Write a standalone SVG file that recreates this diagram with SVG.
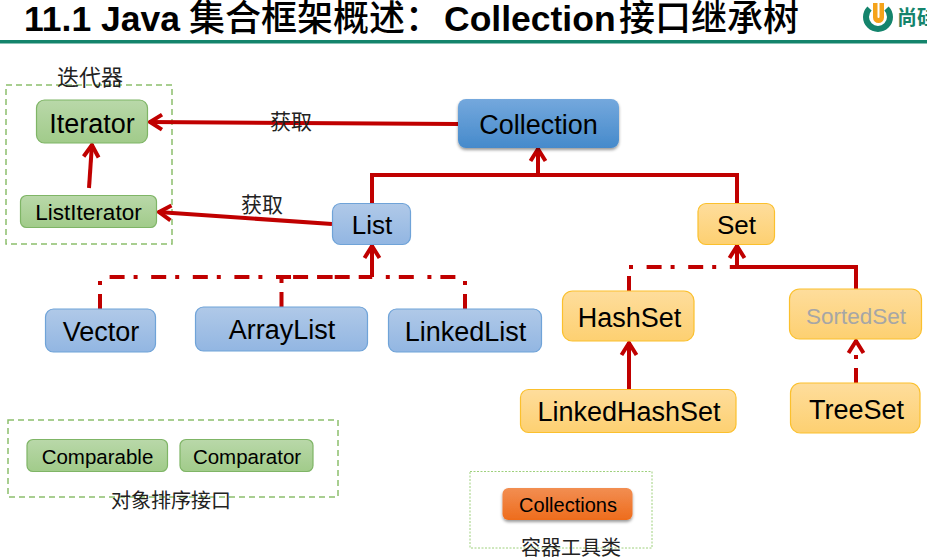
<svg xmlns="http://www.w3.org/2000/svg" width="927" height="560" viewBox="0 0 927 560">
<style>
text{font-family:"Liberation Sans","Noto Sans CJK SC",sans-serif;fill:#000;text-anchor:middle}
.cn{font-family:"Noto Sans CJK SC",sans-serif;font-size:20px;fill:#222}
.blue{fill:url(#gb);stroke:#6fa3d8;stroke-width:1.2}
.green{fill:url(#gg);stroke:#7fb566;stroke-width:1.2}
.or{fill:url(#gy);stroke:#fbc02d;stroke-width:1.2}
.c{fill:none;stroke:#c00000;stroke-width:4}
.d{stroke-dasharray:15 9 4 13.600}
.box{fill:none;stroke:#8cbf6c;stroke-width:1.5;stroke-dasharray:6 4}
</style>
<defs>
<linearGradient id="gb" x1="0" y1="0" x2="0" y2="1"><stop offset="0" stop-color="#b0c9e8"/><stop offset="1" stop-color="#92b6e2"/></linearGradient>
<linearGradient id="gg" x1="0" y1="0" x2="0" y2="1"><stop offset="0" stop-color="#b9d8a9"/><stop offset="1" stop-color="#a1cb8a"/></linearGradient>
<linearGradient id="gy" x1="0" y1="0" x2="0" y2="1"><stop offset="0" stop-color="#fedd9c"/><stop offset="1" stop-color="#fdd071"/></linearGradient>
<linearGradient id="gc" x1="0" y1="0" x2="0" y2="1"><stop offset="0" stop-color="#74a8dd"/><stop offset="1" stop-color="#468acb"/></linearGradient>
<linearGradient id="go" x1="0" y1="0" x2="0" y2="1"><stop offset="0" stop-color="#f28e52"/><stop offset="1" stop-color="#ee6c1c"/></linearGradient>
<filter id="sh" x="-10%" y="-20%" width="120%" height="150%"><feDropShadow dx="0" dy="2" stdDeviation="1.8" flood-color="#000" flood-opacity=".4"/></filter>
<marker id="a" markerUnits="userSpaceOnUse" markerWidth="20" markerHeight="20" refX="16" refY="10" orient="auto"><path d="M3 2.500L15 10L3 17.500" fill="none" stroke="#c00000" stroke-width="4"/></marker>
</defs>

<g id="title">
<text y="31" font-size="35.500" font-weight="700" style="text-anchor:start"><tspan x="24">11.1 Java</tspan><tspan x="189" font-size="36" font-weight="500">集合框架概述：</tspan><tspan x="444">Collection</tspan><tspan x="619" font-size="36" font-weight="500">接口继承树</tspan></text>
<rect x="0" y="40" width="927" height="3.500" fill="#14846c"/>
</g>
<g id="logo">
<path d="M869.500 8.500A12 12 0 1 0 886.500 8.500" fill="none" stroke="#14846c" stroke-width="6"/>
<path d="M873 3h4.500v14a1 1 0 0 0 2 0V3h4.500v14.500a5.500 5.500 0 0 1-11 0Z" fill="#f5a31a"/>
<text x="897" y="25" font-size="20" font-weight="700" style="text-anchor:start;fill:#14846c">尚硅</text>
</g>

<g id="group-iterators">
<rect class="box" x="6" y="85" width="166" height="159"/>
<text class="cn" x="90" y="85" style="font-size:22px">迭代器</text>
</g>
<g id="group-sort">
<rect class="box" x="8" y="420" width="330" height="77"/>
<text class="cn" x="171" y="508">对象排序接口</text>
</g>
<g id="group-tools">
<rect x="470" y="471.500" width="182" height="76.500" fill="none" stroke="#9ed07c" stroke-width="1" stroke-dasharray="2 1.500"/>
<text class="cn" x="571" y="554.500">容器工具类</text>
</g>

<g id="connectors">
<path class="c" marker-end="url(#a)" d="M458 124L149 122"/>
<path class="c" marker-end="url(#a)" d="M89 188L92 144"/>
<path class="c" marker-end="url(#a)" d="M332 224L158 212"/>
<path class="c" d="M372 204V175H737V204"/>
<path class="c" marker-end="url(#a)" d="M538 175V148"/>
<path class="c d" d="M100 309V277H372"/>
<path class="c d" d="M281.500 307V277H372"/>
<path class="c d" d="M465 309V277H372"/>
<path class="c" marker-end="url(#a)" d="M372 277V245"/>
<path class="c d" d="M629 291V267H737"/>
<path class="c" marker-end="url(#a)" d="M737 267V245"/>
<path class="c" d="M737 267H856V289"/>
<path class="c" marker-end="url(#a)" d="M629 389V342"/>
<path class="c d" marker-end="url(#a)" d="M856 383V340"/>
<text class="cn" x="291" y="129" style="font-size:21px">获取</text>
<text class="cn" x="262" y="212" style="font-size:21px">获取</text>
</g>

<g id="collection"><rect x="458" y="99" width="161" height="49" rx="8" fill="url(#gc)" filter="url(#sh)"/><text x="538.500" y="134" font-size="27">Collection</text></g>
<g id="iterator"><rect class="green" x="36.500" y="100" width="111" height="43" rx="8"/><text x="92" y="133" font-size="27">Iterator</text></g>
<g id="listiterator"><rect class="green" x="20.500" y="195.500" width="136" height="32" rx="6"/><text x="88.500" y="220" font-size="22.500">ListIterator</text></g>
<g id="list"><rect class="blue" x="332.500" y="203.500" width="78" height="41" rx="8"/><text x="372" y="234" font-size="26">List</text></g>
<g id="set"><rect class="or" x="698" y="203.500" width="76.500" height="41" rx="8"/><text x="736.500" y="234" font-size="26">Set</text></g>
<g id="vector"><rect class="blue" x="45.500" y="309" width="110" height="43" rx="8"/><text x="101" y="341" font-size="27">Vector</text></g>
<g id="arraylist"><rect class="blue" x="195.500" y="307" width="172" height="44" rx="8"/><text x="282" y="339" font-size="27">ArrayList</text></g>
<g id="linkedlist"><rect class="blue" x="388.500" y="309" width="153" height="43" rx="8"/><text x="465.500" y="341" font-size="27">LinkedList</text></g>
<g id="hashset"><rect class="or" x="562.500" y="291" width="131.500" height="50" rx="10"/><text x="629.500" y="327" font-size="27">HashSet</text></g>
<g id="sortedset"><rect class="or" x="789.500" y="289" width="132" height="50" rx="10"/><text x="856" y="324" font-size="22.500" style="fill:#a6a6a6">SortedSet</text></g>
<g id="linkedhashset"><rect class="or" x="520.500" y="389.500" width="215.500" height="43" rx="8"/><text x="629" y="421" font-size="27">LinkedHashSet</text></g>
<g id="treeset"><rect class="or" x="790.500" y="383" width="129.500" height="50" rx="10"/><text x="856.500" y="419" font-size="27">TreeSet</text></g>
<g id="comparable"><rect class="green" x="27" y="439.500" width="140.500" height="32" rx="6"/><text x="97.500" y="464" font-size="20.500">Comparable</text></g>
<g id="comparator"><rect class="green" x="180" y="439.500" width="133" height="32" rx="6"/><text x="247" y="464" font-size="20.500">Comparator</text></g>
<g id="collections"><rect x="502.500" y="488" width="130" height="32" rx="6" fill="url(#go)" filter="url(#sh)"/><text x="568" y="512" font-size="20">Collections</text></g>
</svg>
